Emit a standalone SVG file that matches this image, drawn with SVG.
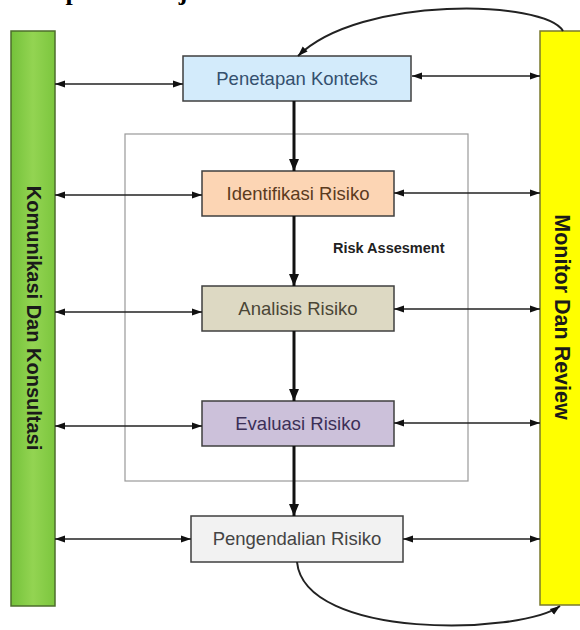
<svg xmlns="http://www.w3.org/2000/svg" width="580" height="630" viewBox="0 0 580 630">
  <style>
    .lbl { font-family: "Liberation Sans", Arial, sans-serif; font-size: 18.5px; text-anchor: middle; }
    .box { stroke: #3f3f3f; stroke-width: 1.5; }
    .side { font-family: "Liberation Sans", Arial, sans-serif; font-weight: bold; text-anchor: middle; dominant-baseline: central; fill: #1a1a1a; }
    .h { stroke: #222; stroke-width: 1.6; fill: none; marker-start: url(#hs); marker-end: url(#he); }
    .v { stroke: #111; stroke-width: 3; fill: none; marker-end: url(#ve); }
    .c { stroke: #222; stroke-width: 2; fill: none; marker-end: url(#ce); }
  </style>
  <defs>
    <marker id="he" markerUnits="userSpaceOnUse" markerWidth="10" markerHeight="10" viewBox="0 0 10 10" refX="10" refY="5" orient="auto">
      <path d="M0,1.5 L10,5 L0,8.5 Z" fill="#111"/>
    </marker>
    <marker id="hs" markerUnits="userSpaceOnUse" markerWidth="10" markerHeight="10" viewBox="0 0 10 10" refX="0" refY="5" orient="auto">
      <path d="M10,1.5 L0,5 L10,8.5 Z" fill="#111"/>
    </marker>
    <marker id="ve" markerUnits="userSpaceOnUse" markerWidth="12" markerHeight="12" viewBox="0 0 12 12" refX="12" refY="6" orient="auto">
      <path d="M0,1 L12,6 L0,11 Z" fill="#111"/>
    </marker>
    <marker id="ce" markerUnits="userSpaceOnUse" markerWidth="10" markerHeight="10" viewBox="0 0 10 10" refX="10" refY="5" orient="auto">
      <path d="M0,1.5 L10,5 L0,8.5 Z" fill="#111"/>
    </marker>
    <linearGradient id="gg" x1="0" y1="0" x2="1" y2="0">
      <stop offset="0" stop-color="#74c23a"/>
      <stop offset="0.5" stop-color="#93d452"/>
      <stop offset="1" stop-color="#7cc63e"/>
    </linearGradient>
  </defs>

  <rect width="580" height="630" fill="#ffffff"/>

  <g id="title">
    <text x="10" y="0" font-family="'Liberation Serif', 'Times New Roman', serif" font-weight="bold" font-size="26" fill="#000">Tahapan Manajemen Risiko</text>
  </g>

  <g id="komunikasi">
    <rect x="11" y="31" width="44" height="575" fill="url(#gg)" stroke="#4d6e2c" stroke-width="1.5"/>
    <text class="side" font-size="20" transform="translate(33.5,318) rotate(90)" x="0" y="0">Komunikasi Dan Konsultasi</text>
  </g>

  <g id="monitor">
    <rect x="540" y="31" width="45" height="574" fill="#ffff00" stroke="#7a7a2e" stroke-width="1.5"/>
    <text class="side" font-size="21.5" transform="translate(562,317) rotate(90)" x="0" y="0">Monitor Dan Review</text>
  </g>

  <g id="risk-assessment">
    <rect x="125" y="134" width="343" height="347" fill="none" stroke="#999" stroke-width="1.2"/>
    <text x="333" y="253" font-family="'Liberation Sans', Arial, sans-serif" font-weight="bold" font-size="14.5" fill="#222">Risk Assesment</text>
  </g>

  <g id="penetapan">
    <rect class="box" x="183" y="56" width="228" height="45" fill="#d3ebfb"/>
    <text class="lbl" x="297" y="85" fill="#34506e">Penetapan Konteks</text>
  </g>

  <g id="identifikasi">
    <rect class="box" x="202" y="171" width="192" height="45" fill="#fcd5b4"/>
    <text class="lbl" x="298" y="200" fill="#5b3b1e">Identifikasi Risiko</text>
  </g>

  <g id="analisis">
    <rect class="box" x="202" y="286" width="192" height="45" fill="#ddd9c3"/>
    <text class="lbl" x="298" y="315" fill="#4a4636">Analisis Risiko</text>
  </g>

  <g id="evaluasi">
    <rect class="box" x="202" y="401" width="192" height="45" fill="#ccc1da"/>
    <text class="lbl" x="298" y="430" fill="#3b2f57">Evaluasi Risiko</text>
  </g>

  <g id="pengendalian">
    <rect class="box" x="191" y="516" width="212" height="46" fill="#f2f2f2"/>
    <text class="lbl" x="297" y="545" fill="#444">Pengendalian Risiko</text>
  </g>

  <g id="connectors">
    <line class="h" x1="55" y1="84" x2="183" y2="84"/>
    <line class="h" x1="412" y1="76" x2="540" y2="76"/>
    <line class="h" x1="55" y1="195" x2="202" y2="195"/>
    <line class="h" x1="394" y1="193" x2="540" y2="193"/>
    <line class="h" x1="55" y1="312" x2="202" y2="312"/>
    <line class="h" x1="394" y1="309" x2="540" y2="309"/>
    <line class="h" x1="55" y1="426" x2="202" y2="426"/>
    <line class="h" x1="394" y1="423" x2="540" y2="423"/>
    <line class="h" x1="55" y1="539" x2="191" y2="539"/>
    <line class="h" x1="403" y1="539" x2="540" y2="539"/>

    <line class="v" x1="294" y1="101" x2="294" y2="171"/>
    <line class="v" x1="294" y1="216" x2="294" y2="286"/>
    <line class="v" x1="294" y1="331" x2="294" y2="401"/>
    <line class="v" x1="294" y1="446" x2="294" y2="516"/>

    <path class="c" d="M563,31 C545,0 360,-5 298,56"/>
    <path class="c" d="M297,562 C305,640 520,635 560,606"/>
  </g>
</svg>
